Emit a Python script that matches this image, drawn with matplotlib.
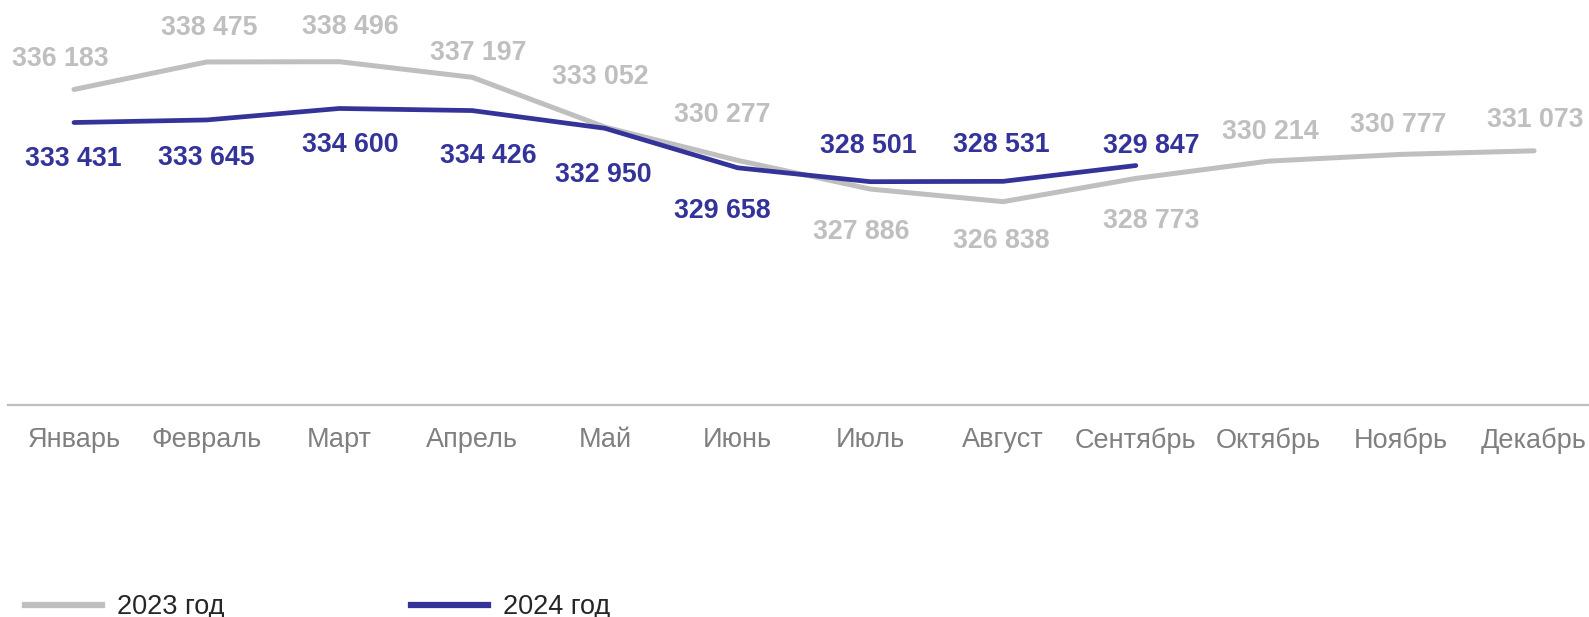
import matplotlib
matplotlib.use("Agg")
import matplotlib.pyplot as plt
from matplotlib.lines import Line2D

months = ["Январь", "Февраль", "Март", "Апрель", "Май", "Июнь",
          "Июль", "Август", "Сентябрь", "Октябрь", "Ноябрь", "Декабрь"]
values_2023 = [336183, 338475, 338496, 337197, 333052, 330277,
               327886, 326838, 328773, 330214, 330777, 331073]
values_2024 = [333431, 333645, 334600, 334426, 332950, 329658,
               328501, 328531, 329847]
series_names = ["2023 год", "2024 год"]

# label offsets in pixels (dx, dy screen-down, to label centre)
off_2023 = [(-14, -33), (3, -37), (11, -37), (6, -27), (-5, -53), (-15, -48),
            (-9, 40), (-2, 37), (15, 40), (2, -32), (-3, -32), (1, -33)]
off_2024 = [(-1, 34), (0, 35), (11, 33.5), (16, 43), (-2, 44), (-15, 41),
            (-2, -38.5), (-2, -39), (15, -22.5)]

GRAY = "#BFBFBF"
BLUE = "#333399"
TICK = "#808080"

plt.rcParams['font.family'] = ['Liberation Sans', 'DejaVu Sans']

W, H = 1589, 617
fig = plt.figure(figsize=(W / 100, H / 100), dpi=100)
spacing = 132.73
left_px = 74 - 0.5 * spacing
axis_px = 405
ax = fig.add_axes([left_px / W, (H - axis_px) / H, 12 * spacing / W, axis_px / H])
ax.set_xlim(-0.5, 11.5)
ax.set_ylim(309900, 309900 + axis_px / 0.012005)

x23 = list(range(len(values_2023)))
x24 = list(range(len(values_2024)))
ax.plot(x23, values_2023, color=GRAY, lw=3.6, solid_capstyle='round',
        solid_joinstyle='round', label=series_names[0], zorder=2)
ax.plot(x24, values_2024, color=BLUE, lw=3.4, solid_capstyle='round',
        solid_joinstyle='round', label=series_names[1], zorder=3)

def fmt(v):
    return f"{v:,}".replace(",", " ")

LABEL_FS = 19.3
cap_half = 0.716 * LABEL_FS * 100 / 72 / 2
for xi, v, (dx, dy) in zip(x23, values_2023, off_2023):
    ax.annotate(fmt(v), (xi, v), xytext=(dx, -(dy + cap_half)),
                textcoords='offset pixels', ha='center', va='baseline',
                fontsize=LABEL_FS, fontweight='bold', color=GRAY, annotation_clip=False)
for xi, v, (dx, dy) in zip(x24, values_2024, off_2024):
    ax.annotate(fmt(v), (xi, v), xytext=(dx, -(dy + cap_half)),
                textcoords='offset pixels', ha='center', va='baseline',
                fontsize=LABEL_FS, fontweight='bold', color=BLUE, annotation_clip=False)

ax.set_xticks(range(len(months)))
ax.set_xticklabels(months, fontsize=19.5, color=TICK)
ax.tick_params(axis='x', length=0, pad=16)
ax.set_yticks([])
for s in ['top', 'left', 'right']:
    ax.spines[s].set_visible(False)
ax.spines['bottom'].set_color(GRAY)
ax.spines['bottom'].set_linewidth(1.6)
ax.patch.set_visible(False)

handles = [Line2D([], [], color=GRAY, lw=4.5), Line2D([], [], color=BLUE, lw=4.5)]
fig.legend(handles, series_names, loc='center left',
           bbox_to_anchor=(25 / W, (H - 607) / H), ncol=2, frameon=False,
           fontsize=19.5, handlelength=2.84, handletextpad=0.55, columnspacing=6.9,
           borderpad=0, borderaxespad=0, labelcolor="#262626")

fig.savefig("out.png", dpi=100)
